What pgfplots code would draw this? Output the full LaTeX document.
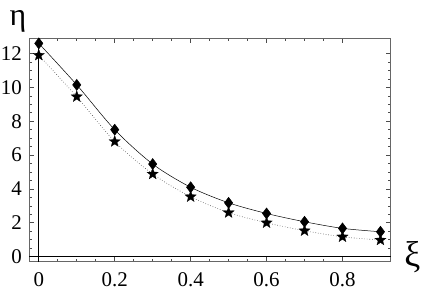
\documentclass[border=0pt]{standalone}
\usepackage{fontspec}
\setmainfont{Liberation Serif}
\usepackage{pgfplots}
\pgfplotsset{compat=1.18}

% filled five-pointed star
\pgfdeclareplotmark{fstar}{%
  \pgfpathmoveto{\pgfpointpolar{90}{\pgfplotmarksize}}%
  \foreach \a in {0,...,4}{%
    \pgfpathlineto{\pgfpointpolar{126+72*\a}{0.42\pgfplotmarksize}}%
    \pgfpathlineto{\pgfpointpolar{162+72*\a}{\pgfplotmarksize}}%
  }%
  \pgfpathclose
  \pgfusepathqfillstroke
}

\pgfplotstableread{
xi   eta1   eta2
0.0  12.60  11.90
0.1  10.15   9.45
0.2   7.50   6.80
0.3   5.47   4.88
0.4   4.10   3.54
0.5   3.18   2.60
0.6   2.55   2.00
0.7   2.06   1.53
0.8   1.67   1.17
0.9   1.47   0.98
}\datatable

\begin{document}
\begin{tikzpicture}
\useasboundingbox (-29.3bp,-31.3bp) rectangle (392.7bp,261.7bp);
\begin{axis}[
    scale only axis,
    width=361.4bp,
    height=223.4bp,
    xmin=-0.025, xmax=0.927,
    ymin=-0.3, ymax=12.9,
    xtick={0,0.2,0.4,0.6,0.8},
    xticklabels={0,0.2,0.4,0.6,0.8},
    ytick={0,2,4,6,8,10,12},
    minor x tick num=3,
    minor y tick num=3,
    tick align=inside,
    major tick length=5bp,
    minor tick length=3bp,
    every tick/.style={black!70, line width=0.6bp},
    axis line style={black!60, line width=1.2bp},
    tick label style={font=\fontsize{21}{24}\selectfont},
    /pgf/number format/assume math mode=true,
    xticklabel style={yshift=-7bp},
    yticklabel style={xshift=-4bp},
    clip=false,
]
\draw[black, line width=0.7bp] (axis cs:0,-0.3) -- (axis cs:0,12.9);
\draw[black, line width=0.7bp] (axis cs:-0.025,0) -- (axis cs:0.927,0);
\addplot[black, line width=0.5bp, smooth, mark=diamond*, mark size=5.5bp,
    mark options={solid, fill=black}] table[x=xi, y=eta1] {\datatable};
\addplot[black!70, line width=0.6bp, dotted, smooth, mark=fstar, mark size=6bp,
    mark options={solid, fill=black, draw=black, line width=0.2bp}] table[x=xi, y=eta2] {\datatable};
\end{axis}
\node[font=\fontsize{32}{36}\selectfont] at (-11.3bp,240bp) {η};
\node[font=\fontsize{36}{40}\selectfont] at (383bp,5bp) {ξ};
\end{tikzpicture}
\end{document}
